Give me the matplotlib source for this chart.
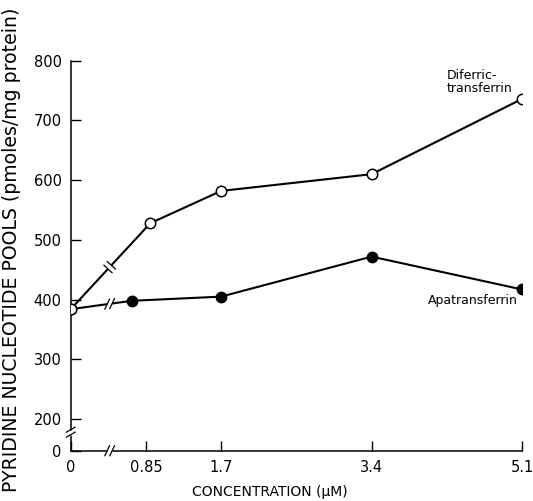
import numpy as np
import matplotlib
matplotlib.use('Agg')
import matplotlib.pyplot as plt

# %% data
x_ticks = [0, 0.85, 1.7, 3.4, 5.1]
x_labels = ['0', '0.85', '1.7', '3.4', '5.1']
y_ticks = [200, 300, 400, 500, 600, 700, 800]

diferric_x = [0, 0.9, 1.7, 3.4, 5.1]
diferric_y = [384, 528, 582, 610, 736]        # pmoles/mg protein
apo_x = [0, 0.69, 1.7, 3.4, 5.1]
apo_y = [384, 398, 405, 472, 417]

Y_ZERO = 147      # where the broken y axis puts "0"
X_BREAK = 0.44    # x position of the break marks

# %%
fig = plt.figure(figsize=(5.33, 5.01), dpi=100)
ax = fig.add_axes([0.1327, 0.1004, 0.8467, 0.7784])
ax.set_xlim(0, 5.1)
ax.set_ylim(Y_ZERO, 800)

ax.plot(apo_x, apo_y, '-', color='k', lw=1.5, marker='o', ms=7.5,
        mfc='k', mec='k', zorder=3)
ax.plot(diferric_x, diferric_y, '-', color='k', lw=1.5, marker='o', ms=7.5,
        mfc='white', mec='k', mew=1.1, zorder=3.2)

ax.set_xticks(x_ticks, x_labels)
ax.set_yticks([Y_ZERO] + y_ticks, ['0'] + [str(v) for v in y_ticks])
ax.tick_params(direction='in', length=7, width=1, labelsize=10.5, pad=6.5)
for s in ('top', 'right'):
    ax.spines[s].set_visible(False)
for s in ('left', 'bottom'):
    ax.spines[s].set_linewidth(1.1)


def brk(p0, p1, f, ang=None, gap=5, size=11):
    T = ax.transData
    a, b = T.transform(p0), T.transform(p1)
    c = a + f * (b - a)
    u = (b - a) / np.hypot(*(b - a))
    if ang is None:
        v = np.array([-u[1], u[0]])
    else:
        v = np.array([np.cos(np.radians(ang)), np.sin(np.radians(ang))])
    inv = T.inverted()
    g = inv.transform([c - u * gap / 2, c + u * gap / 2])
    ax.plot(g[:, 0], g[:, 1], color='white', lw=3.5, zorder=5,
            solid_capstyle='butt', clip_on=False)
    for s in (-1, 1):
        m = c + s * u * gap / 2
        seg = inv.transform([m - v * size / 2, m + v * size / 2])
        ax.plot(seg[:, 0], seg[:, 1], color='k', lw=0.9, zorder=6, clip_on=False)


brk((diferric_x[0], diferric_y[0]), (diferric_x[1], diferric_y[1]), X_BREAK / diferric_x[1])
brk((apo_x[0], apo_y[0]), (apo_x[1], apo_y[1]), X_BREAK / apo_x[1], ang=65)
brk((0, Y_ZERO), (5.1, Y_ZERO), X_BREAK / 5.1, ang=65)
brk((0, Y_ZERO), (0, 800), (178 - Y_ZERO) / (800 - Y_ZERO), ang=30, size=10)

ax.text(4.25, 786, 'Diferric-\ntransferrin', ha='left', va='top',
        fontsize=9, linespacing=1.0)
ax.text(4.04, 398, 'Apatransferrin', ha='left', va='center', fontsize=9)

fig.text(12 / 533, 1 - 250 / 501, 'PYRIDINE NUCLEOTIDE POOLS (pmoles/mg protein)',
         rotation=90, ha='center', va='center', fontsize=13.6)
fig.text(270 / 533, 1 - 492 / 501, 'CONCENTRATION (\u03bcM)',
         ha='center', va='center', fontsize=10)

fig.savefig('out.png', dpi=100)
